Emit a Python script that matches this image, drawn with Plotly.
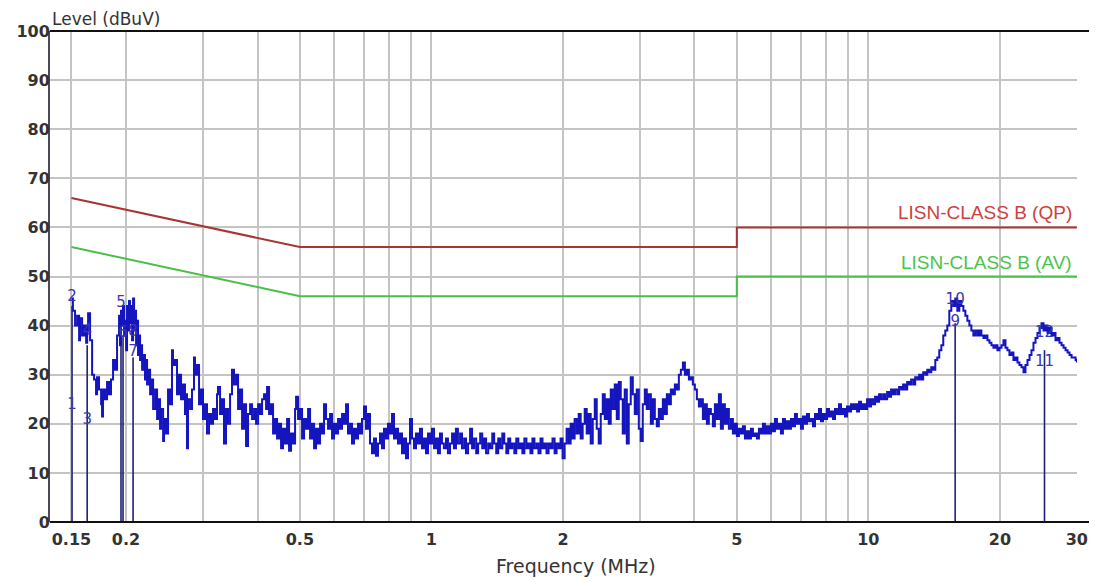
import plotly.graph_objects as go

# ---------------- data ----------------
# measured spectrum, 0.15 - 0.5 MHz
freq_a = [0.1500, 0.1512, 0.1529, 0.1546, 0.1562, 0.1570, 0.1587, 0.1604, 0.1621, 0.1630,
          0.1638, 0.1655, 0.1673, 0.1690, 0.1708, 0.1717, 0.1735, 0.1754, 0.1763, 0.1772,
          0.1791, 0.1810, 0.1829, 0.1848, 0.1868, 0.1888, 0.1908, 0.1928, 0.1938, 0.1948,
          0.1959, 0.1969, 0.1980, 0.1990, 0.2001, 0.2011, 0.2022, 0.2032, 0.2043, 0.2054,
          0.2065, 0.2076, 0.2087, 0.2098, 0.2109, 0.2120, 0.2131, 0.2143, 0.2154, 0.2165,
          0.2177, 0.2188, 0.2211, 0.2223, 0.2235, 0.2259, 0.2271, 0.2295, 0.2307, 0.2332,
          0.2356, 0.2369, 0.2393, 0.2406, 0.2432, 0.2444, 0.2470, 0.2496, 0.2522, 0.2549,
          0.2562, 0.2589, 0.2617, 0.2645, 0.2673, 0.2701, 0.2729, 0.2744, 0.2758, 0.2773,
          0.2803, 0.2832, 0.2862, 0.2877, 0.2908, 0.2939, 0.2970, 0.3001, 0.3033, 0.3065,
          0.3098, 0.3131, 0.3164, 0.3197, 0.3231, 0.3248, 0.3283, 0.3317, 0.3352, 0.3388,
          0.3424, 0.3461, 0.3497, 0.3534, 0.3572, 0.3610, 0.3648, 0.3687, 0.3726, 0.3765,
          0.3805, 0.3846, 0.3886, 0.3928, 0.3969, 0.4012, 0.4054, 0.4097, 0.4140, 0.4184,
          0.4206, 0.4251, 0.4296, 0.4341, 0.4387, 0.4434, 0.4481, 0.4528, 0.4576, 0.4625,
          0.4674, 0.4723, 0.4773, 0.4824, 0.4875, 0.4901, 0.4953, 0.5005]
level_a = [45.5, 43, 40, 42, 37, 41.5, 38, 40, 36.5, 39,
           42.5, 37, 30, 29, 26, 29.5, 27, 24, 21.5, 27,
           25, 28.5, 26, 29, 33, 31, 38, 42, 36, 43,
           40, 44, 38, 41, 35, 44, 39, 45, 40.5, 44,
           37, 45.5, 39, 43, 36, 41, 34, 38, 33, 36,
           31, 34, 29, 33, 28, 31, 26, 29, 23, 27,
           21, 25, 19, 23, 16.5, 21, 18, 27, 24, 35,
           32, 33, 26, 30, 25, 28, 22, 26, 15, 25,
           23, 27, 33.5, 30, 32, 24, 27, 21, 24, 18,
           22, 20, 23, 21, 26, 27.5, 22, 25, 16, 23,
           20, 26, 31, 28, 30, 23, 27, 19, 24, 15.5,
           22, 24, 21, 23, 20, 24, 22, 25, 26, 23,
           27.5, 22, 24, 18, 21, 17, 20, 15, 19, 16,
           21, 14.5, 18, 16, 23, 25.5, 21, 23]

# measured spectrum, 0.5 - 2 MHz
freq_b = [0.5058, 0.5112, 0.5166, 0.5221, 0.5276, 0.5332, 0.5388, 0.5445, 0.5503, 0.5561,
          0.5620, 0.5679, 0.5739, 0.5800, 0.5862, 0.5924, 0.5986, 0.6050, 0.6114, 0.6179,
          0.6244, 0.6310, 0.6377, 0.6444, 0.6513, 0.6581, 0.6651, 0.6721, 0.6792, 0.6864,
          0.6937, 0.7010, 0.7084, 0.7159, 0.7235, 0.7312, 0.7389, 0.7467, 0.7546, 0.7626,
          0.7707, 0.7789, 0.7871, 0.7954, 0.8039, 0.8124, 0.8210, 0.8297, 0.8385, 0.8474,
          0.8564, 0.8654, 0.8746, 0.8839, 0.8932, 0.9027, 0.9122, 0.9219, 0.9317, 0.9415,
          0.9515, 0.9616, 0.9718, 0.9821, 0.9925, 1.003, 1.014, 1.024, 1.035, 1.046,
          1.057, 1.068, 1.080, 1.091, 1.103, 1.115, 1.126, 1.138, 1.150, 1.163,
          1.175, 1.188, 1.200, 1.213, 1.226, 1.239, 1.252, 1.266, 1.279, 1.293,
          1.307, 1.320, 1.334, 1.349, 1.363, 1.378, 1.392, 1.407, 1.422, 1.437,
          1.453, 1.468, 1.484, 1.499, 1.515, 1.531, 1.548, 1.564, 1.581, 1.598,
          1.615, 1.632, 1.650, 1.667, 1.685, 1.703, 1.721, 1.740, 1.758, 1.777,
          1.796, 1.815, 1.834, 1.854, 1.874, 1.893, 1.914, 1.934, 1.955, 1.975,
          1.996, 2.018]
level_b = [17, 21, 19, 23, 17, 20, 15, 19, 16, 20,
           18, 24, 21, 19, 22, 17, 20, 18, 21, 19,
           22, 20, 24, 18, 20, 16, 19, 17, 20, 18,
           21, 23.5, 19, 22, 16, 14, 17, 13.5, 16, 18,
           15, 19, 17, 20, 18, 22, 17, 19, 16, 18,
           14, 17, 13, 16, 21, 17, 15, 18, 16, 19,
           15, 17, 14, 18, 16, 19, 15, 17, 14, 18,
           16, 15, 17, 14, 16, 18, 15, 19, 16, 18,
           15, 17, 14, 16, 19, 15, 17, 14, 16, 18,
           15, 17, 14, 16, 15, 18, 16, 14, 17, 15,
           18, 16, 14, 17, 15, 16, 14, 17, 15, 16,
           14, 17, 15, 16, 14, 17, 15, 16, 14, 17,
           15, 16, 14, 16, 15, 17, 14, 16, 15, 17,
           13, 16]

# measured spectrum, 2 - 5 MHz
freq_c = [2.039, 2.061, 2.083, 2.105, 2.127, 2.150, 2.173, 2.196, 2.219, 2.243,
          2.267, 2.291, 2.315, 2.340, 2.365, 2.390, 2.415, 2.441, 2.467, 2.493,
          2.519, 2.546, 2.573, 2.600, 2.628, 2.656, 2.684, 2.712, 2.741, 2.770,
          2.800, 2.829, 2.859, 2.890, 2.920, 2.951, 2.983, 3.014, 3.046, 3.079,
          3.111, 3.144, 3.178, 3.212, 3.246, 3.280, 3.315, 3.350, 3.386, 3.422,
          3.458, 3.495, 3.532, 3.569, 3.607, 3.645, 3.684, 3.723, 3.763, 3.803,
          3.843, 3.884, 3.925, 3.966, 4.008, 4.051, 4.094, 4.137, 4.181, 4.225,
          4.270, 4.315, 4.361, 4.407, 4.454, 4.501, 4.549, 4.597, 4.646, 4.695,
          4.745, 4.795, 4.848, 4.898, 4.950, 5.002, 5.055, 5.109]
level_c = [19, 16, 20, 17, 21, 18, 22, 17, 20, 23,
           18, 22, 16, 21, 25, 19, 16, 22, 26, 21,
           25, 20, 27, 23, 28, 21, 28.5, 25, 18, 27,
           16, 24, 29.5, 26, 22, 27, 19, 16.5, 24, 27,
           23, 26, 20, 25, 21, 19.5, 23, 21, 25, 22,
           26, 24, 27, 26, 28, 27, 30, 31, 32.5, 30,
           31, 29, 29.5, 28, 27, 25, 23.5, 25, 21, 24,
           20, 23, 22, 19.5, 24, 21, 26, 19, 24, 20,
           23, 19, 21, 18, 20, 17.5, 19, 18]

# measured spectrum, 5 - 30 MHz
freq_d = [5.163, 5.218, 5.273, 5.329, 5.386, 5.443, 5.500, 5.559, 5.618, 5.677,
          5.737, 5.798, 5.859, 5.922, 5.984, 6.048, 6.112, 6.177, 6.242, 6.308,
          6.375, 6.443, 6.511, 6.580, 6.650, 6.720, 6.792, 6.864, 6.937, 7.010,
          7.085, 7.160, 7.236, 7.313, 7.390, 7.469, 7.548, 7.628, 7.709, 7.791,
          7.874, 7.957, 8.042, 8.127, 8.213, 8.301, 8.389, 8.478, 8.568, 8.659,
          8.751, 8.843, 8.937, 9.032, 9.128, 9.225, 9.323, 9.422, 9.522, 9.623,
          9.725, 9.828, 9.932, 10.04, 10.14, 10.25, 10.36, 10.47, 10.58, 10.69,
          10.81, 10.92, 11.04, 11.15, 11.27, 11.39, 11.51, 11.64, 11.76, 11.89,
          12.01, 12.14, 12.27, 12.40, 12.53, 12.67, 12.80, 12.94, 13.07, 13.21,
          13.35, 13.50, 13.64, 13.78, 13.93, 14.08, 14.23, 14.38, 14.53, 14.69,
          14.84, 15.00, 15.16, 15.32, 15.48, 15.65, 15.81, 15.98, 16.15, 16.32,
          16.50, 16.67, 16.85, 17.03, 17.21, 17.39, 17.58, 17.77, 17.95, 18.14,
          18.34, 18.53, 18.73, 18.93, 19.13, 19.33, 19.54, 19.74, 19.95, 20.17,
          20.38, 20.60, 20.81, 21.03, 21.26, 21.48, 21.71, 21.94, 22.17, 22.41,
          22.65, 22.89, 23.13, 23.38, 23.62, 23.87, 24.13, 24.38, 24.64, 24.90,
          25.17, 25.44, 25.71, 25.98, 26.25, 26.53, 26.81, 27.10, 27.38, 27.68,
          27.97, 28.27, 28.57, 28.87, 29.18, 29.49, 29.80, 30.00]
level_d = [19.5, 17, 18.5, 17, 19, 17.5, 18, 17, 19, 18,
           20, 18, 19.5, 18, 20, 18.5, 21, 19, 20, 18,
           21, 19, 20.5, 19, 21, 19.5, 22, 20, 21, 19,
           21.5, 20, 22, 20.5, 21, 19.5, 22, 21, 23, 20.5,
           22, 21, 23, 21.5, 22.5, 21, 23, 22, 24, 22,
           23, 21.5, 23.5, 22.5, 24, 23, 24, 22.5, 24.5, 23,
           24, 23, 25, 23.5, 25, 24, 25.5, 24.5, 26, 25,
           26, 25, 26.5, 25.5, 27, 26, 27, 26, 27.5, 27,
           28, 27, 28.5, 28, 29, 28, 29.5, 29, 30, 29,
           30.5, 30, 31, 30.5, 31.5, 31, 33, 33.5, 35, 36,
           38, 39, 40, 43, 45, 44, 45.5, 43, 45, 44,
           43, 42, 41, 40, 39, 38, 39, 38, 39, 38,
           37.5, 38, 37, 36.5, 36, 35.5, 36, 35, 35.5, 36,
           37, 35.5, 35, 34, 34.5, 33, 33.5, 32.5, 32, 31.5,
           30.5, 32, 33, 34, 35, 36.5, 37.5, 38.5, 39.5, 40.5,
           39, 40, 38.5, 39.5, 38, 38.5, 37, 37.5, 36.5, 36,
           35.5, 35, 34.5, 34, 33.5, 33.5, 33, 32.5]

# limit lines
qp_freq = [0.15, 0.5, 5, 5, 30]
qp_level = [66, 56, 56, 60, 60]
av_freq = [0.15, 0.5, 5, 5, 30]
av_level = [56, 46, 46, 50, 50]

# markers (label numbers, frequency, level)
marker_label = ["1", "2", "3", "4", "5", "6", "7", "8", "9", "10", "11", "12"]
marker_freq = [0.1505, 0.1505, 0.1630, 0.1630, 0.1948, 0.1969, 0.2076, 0.2076,
               15.80, 15.80, 25.30, 25.30]
marker_level = [23.8, 45.8, 20.8, 38.9, 44.6, 38.5, 34.6, 38.7, 40.7, 45.2, 32.6, 38.5]
# vertical marker lines (frequency, top level)
mline_freq = [0.1505, 0.1630, 0.1948, 0.1969, 0.2076, 15.80, 25.30]
mline_top = [44, 36, 37, 38, 33.5, 40.5, 35]

x_tickvals = [0.15, 0.2, 0.5, 1, 2, 5, 10, 20, 30]
x_ticktext = ["0.15", "0.2", "0.5", "1", "2", "5", "10", "20", "30"]
x_minor = [0.3, 0.4, 0.6, 0.7, 0.8, 0.9, 3, 4, 6, 7, 8, 9]
y_tickvals = [0, 10, 20, 30, 40, 50, 60, 70, 80, 90, 100]

# ---------------- figure ----------------
spec_f = freq_a + freq_b + freq_c + freq_d
spec_l = level_a + level_b + level_c + level_d

fig = go.Figure()

fig.add_trace(go.Scatter(x=qp_freq, y=qp_level, mode="lines",
                         line=dict(color="#a83434", width=2), hoverinfo="skip"))
fig.add_trace(go.Scatter(x=av_freq, y=av_level, mode="lines",
                         line=dict(color="#48c048", width=2), hoverinfo="skip"))

mx, my = [], []
for f, t in zip(mline_freq, mline_top):
    mx += [f, f, None]
    my += [0, t, None]
fig.add_trace(go.Scatter(x=mx, y=my, mode="lines",
                         line=dict(color="#20207a", width=1.6), hoverinfo="skip"))

fig.add_trace(go.Scatter(x=spec_f, y=spec_l, mode="lines", line_shape="hv",
                         line=dict(color="#1515c0", width=2), hoverinfo="skip"))

fig.add_trace(go.Scatter(x=marker_freq, y=marker_level, mode="text", text=marker_label,
                         textposition="middle center",
                         textfont=dict(family="DejaVu Sans", size=15, color="#3838b0"),
                         hoverinfo="skip"))

# the page body adds an 8 px offset, so the figure is drawn 8 px smaller
fig_w, fig_h = 1089, 574
plot_l, plot_r = 42, 1069
pw = plot_r - plot_l
fig.update_layout(
    width=fig_w, height=fig_h,
    margin=dict(l=plot_l, r=fig_w - plot_r, t=23, b=60),
    paper_bgcolor="white", plot_bgcolor="white",
    showlegend=False,
    xaxis=dict(type="log", range=[-0.8729, 1.4775], automargin=False,
               tickmode="array", tickvals=x_tickvals, ticktext=x_ticktext,
               showgrid=True, gridcolor="#c4c4c4", gridwidth=1.5,
               minor=dict(tickmode="array", tickvals=x_minor, showgrid=True,
                          gridcolor="#c4c4c4", gridwidth=1.5, ticks=""),
               ticks="", showline=False, zeroline=False,
               tickfont=dict(family="DejaVu Sans", size=16, color="#333333", weight="bold"),
               ticklabelstandoff=6),
    yaxis=dict(range=[0, 100], tickmode="array", tickvals=y_tickvals, automargin=False,
               showgrid=True, gridcolor="#c4c4c4", gridwidth=1.5,
               ticks="", showline=True, linecolor="#4a4a5a", linewidth=2,
               zeroline=False,
               tickfont=dict(family="DejaVu Sans", size=16, color="#333333", weight="bold"),
               ticklabelstandoff=-5),
    annotations=[
        dict(text="Level (dBuV)", xref="paper", yref="paper", x=0, y=1,
             xanchor="left", yanchor="bottom", yshift=0, showarrow=False,
             font=dict(family="DejaVu Sans", size=17, color="#333333")),
        dict(text="Frequency (MHz)", xref="paper", yref="paper",
             x=(568 - plot_l) / pw, y=0, xanchor="center", yanchor="middle",
             yshift=-44, showarrow=False,
             font=dict(family="DejaVu Sans", size=19, color="#333333")),
        dict(text="LISN-CLASS B (QP)", xref="x", yref="y", x=1.4771, y=60,
             xanchor="right", yanchor="bottom", xshift=-3, yshift=2, showarrow=False,
             font=dict(family="Liberation Sans", size=19, color="#d04040")),
        dict(text="LISN-CLASS B (AV)", xref="x", yref="y", x=1.4771, y=50,
             xanchor="right", yanchor="bottom", xshift=-3, yshift=2, showarrow=False,
             font=dict(family="Liberation Sans", size=19, color="#4cc44c")),
    ],
    shapes=[
        dict(type="line", xref="paper", yref="paper", x0=0, x1=(fig_w - plot_l) / pw,
             y0=1, y1=1, line=dict(color="#111111", width=2)),
        dict(type="line", xref="paper", yref="paper", x0=0, x1=(fig_w - plot_l) / pw,
             y0=0, y1=0, line=dict(color="#111111", width=2)),
    ],
)

fig.write_html("out.html")
